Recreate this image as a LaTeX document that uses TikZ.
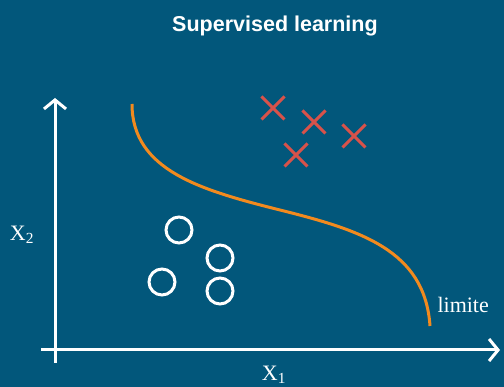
\documentclass[tikz,border=0pt]{standalone}
\usepackage{fontspec}
\setmainfont{Liberation Serif}
\newfontfamily\titlefont{Liberation Sans}
\usetikzlibrary{arrows.meta, positioning, shapes.misc}

\definecolor{bgblue}{HTML}{02577B}
\definecolor{limorange}{HTML}{F28A1E}
\definecolor{crossred}{HTML}{D8524A}

\tikzset{
    axis/.style={draw=white, line width=3pt, -{Straight Barb[length=9pt, width=22pt, line width=3pt]}},
    classx/.style={draw=crossred, cross out, line width=3pt, minimum size=20pt, inner sep=0pt},
    classo/.style={draw=white, circle, line width=3pt, minimum size=26pt, inner sep=0pt},
    lbl/.style={text=white, font=\fontsize{22}{26}\selectfont}
}

\begin{document}
\begin{tikzpicture}[x=1pt, y=-1pt]
        % background and frame
        \fill[bgblue] (0,0) rectangle (504,387);
        \useasboundingbox (0,0) rectangle (504,387);
        \node[text=white, font=\titlefont\bfseries\fontsize{21.5}{25}\selectfont] (title) at (275,26) {Supervised learning};

        % axes
        \coordinate (yfoot) at (55,363);
        \coordinate (ytip) at (55,98);
        \coordinate (xfoot) at (41,350);
        \coordinate (xtip) at (500,350);
        \draw[axis] (yfoot) -- (ytip);
        \draw[axis] (xfoot) -- (xtip);
        \node[lbl] (xone) at (274,375) {X\textsubscript{1}};
        \node[lbl] (xtwo) at (22,235) {X\textsubscript{2}};

        % class one
        \node[classx] (xa) at (273,108) {};
        \node[classx] (xb) at (314,122) {};
        \node[classx] (xc) at (354,136) {};
        \node[classx] (xd) at (296,155) {};

        % class two
        \node[classo] (oa) at (179,230) {};
        \node[classo] (ob) at (220,258) {};
        \node[classo] (oc) at (162,282) {};
        \node[classo] (od) at (220,291) {};

        % decision boundary
        \coordinate (cstart) at (132,104);
        \coordinate (cmid) at (280,210);
        \coordinate (cend) at (430,326);
        \draw[limorange, line width=3pt] (cstart) .. controls (132,170) and (200,190) .. (cmid)
            .. controls (360,230) and (425,250) .. (cend);
        \node[lbl, anchor=west] (limite) at (434,305) {limite};
    \end{tikzpicture}
\end{document}
